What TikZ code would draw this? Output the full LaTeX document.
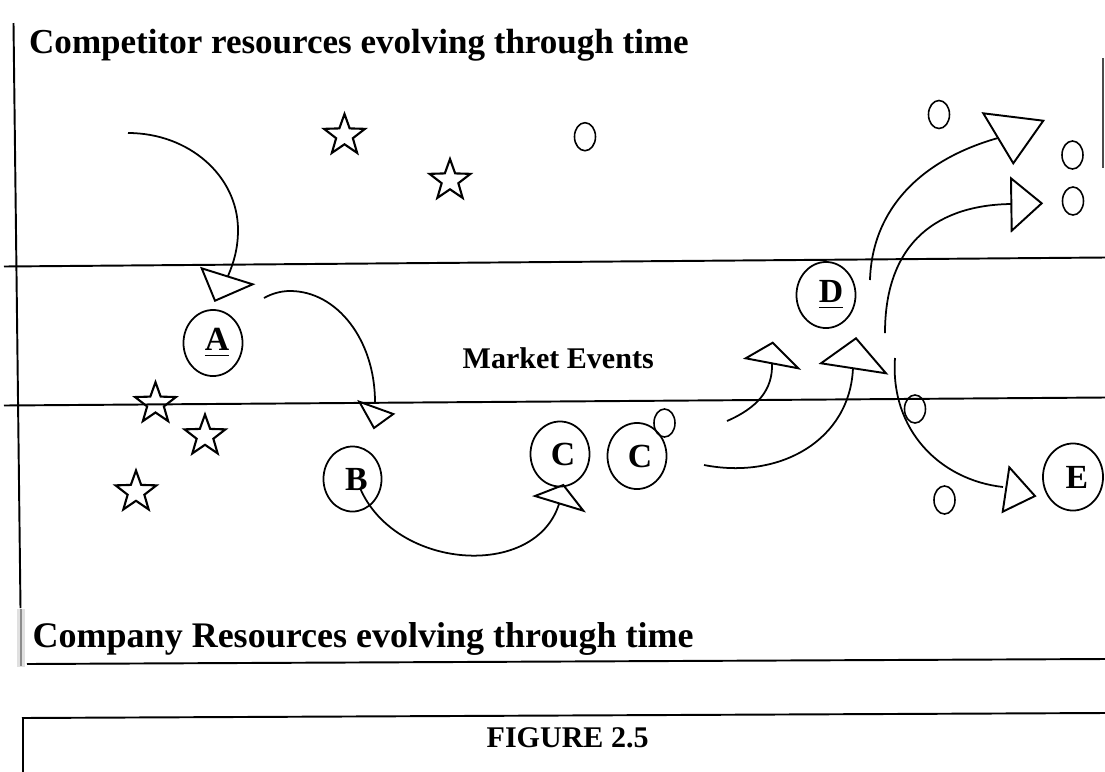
\documentclass[tikz,border=0pt]{standalone}
\usepackage{fontspec}
\setmainfont{Liberation Serif}
\usetikzlibrary{shapes.geometric}

\newcommand\headfont{\fontsize{9.96pt}{12pt}\selectfont\bfseries}
\newcommand\footfont{\fontsize{10.24pt}{12pt}\selectfont\bfseries}
\newcommand\bandfont{\fontsize{8.54pt}{10pt}\selectfont\bfseries}
\newcommand\letterfont{\fontsize{9.6pt}{11pt}\selectfont\bfseries}

\tikzset{
  rule/.style={line width=0.55pt},
  faint/.style={line width=0.4pt, black!70},
  curve/.style={line width=0.5pt},
  tri/.style={line width=0.55pt, line join=miter},
  ring/.style={draw, ellipse, line width=0.5pt, inner sep=0pt,
    minimum width=0.59cm, minimum height=0.66cm, font=\letterfont},
  blob/.style={draw, ellipse, line width=0.45pt, inner sep=0pt,
    minimum width=0.21cm, minimum height=0.28cm},
  starmark/.style={draw, star, star points=5, star point ratio=2.45,
    minimum size=0.43cm, inner sep=0pt, line width=0.6pt},
  caption/.style={anchor=base west, inner sep=0pt},
}

\begin{document}
\begin{tikzpicture}[x=0.01cm, y=-0.01cm]
  \useasboundingbox (0,0) rectangle (1105,772);

  % frame and band rules
  \draw[rule] (13.5,23) -- (20.5,608);
  \draw[rule] (4,266.5) -- (1105,257.5);
  \draw[rule] (4,405.5) -- (1105,397.5);
  \draw[rule] (27,664) -- (1105,659);
  \draw[rule] (22,718) -- (1105,713);
  \draw[rule] (22.7,718) -- (22.7,772);
  \draw[faint] (1103,58) -- (1103,168);
  \fill[black!12] (17,609) rectangle (25,667);
  \draw[line width=0.5pt, black!45] (21,609) -- (21,666);

  % texts
  \node[caption, font=\headfont] (top) at (28.5,53.3)
    {Competitor resources evolving through time};
  \node[caption, font=\bandfont] (band) at (462,368.3) {Market Events};
  \node[caption, font=\footfont] (bottom) at (32,647)
    {Company Resources evolving through time};
  \node[caption, font=\bandfont] (fig) at (486,747) {FIGURE 2.5};

  % stars
  \node[starmark] (s1) at (344.5,135.5) {};
  \node[starmark] (s2) at (450,180.5) {};
  \node[starmark] (s3) at (155.5,403.7) {};
  \node[starmark] (s4) at (205,436) {};
  \node[starmark] (s5) at (136,492) {};

  % small ovals
  \node[blob] (o1) at (585,136.7) {};
  \node[blob] (o2) at (939,114.5) {};
  \node[blob] (o3) at (1072.5,155) {};
  \node[blob] (o4) at (1073,201) {};
  \node[blob] (o5) at (664.5,423) {};
  \node[blob] (o6) at (915,409) {};
  \node[blob] (o7) at (944.5,500) {};

  % lettered resources
  \node[ring] (A)  at (213,343)   {\hspace*{0.08cm}\underline{A}};
  \node[ring, minimum width=0.58cm, minimum height=0.65cm] (B) at (352.5,479) {\hspace*{0.08cm}B};
  \node[ring, minimum height=0.65cm] (C1) at (560,454) {\hspace*{0.06cm}C};
  \node[ring] (C2) at (637,456)   {\hspace*{0.06cm}C};
  \node[ring] (D)  at (826,295)   {\hspace*{0.1cm}\underline{D}};
  \node[ring, minimum width=0.6cm, minimum height=0.67cm] (E) at (1073,477) {\hspace*{0.08cm}E};

  % open triangular arrowheads
  \coordinate (t1a) at (201.7,268.3); \coordinate (t1b) at (252.7,284.3); \coordinate (t1c) at (215,300.7);
  \coordinate (t2a) at (359.3,401.7); \coordinate (t2b) at (393.3,414);   \coordinate (t2c) at (374,428);
  \coordinate (t3a) at (535,496);     \coordinate (t3b) at (563.3,485);   \coordinate (t3c) at (583.3,510.7);
  \coordinate (t4a) at (745.7,358.3); \coordinate (t4b) at (772.7,342.7); \coordinate (t4c) at (798.3,368.3);
  \coordinate (t5a) at (821,363.3);   \coordinate (t5b) at (856,338.3);   \coordinate (t5c) at (886,373.3);
  \coordinate (t6a) at (983.3,113.3); \coordinate (t6b) at (1043.3,120.7);\coordinate (t6c) at (1013.3,163.3);
  \coordinate (t7a) at (1011,178.3);  \coordinate (t7b) at (1041.7,203.3);\coordinate (t7c) at (1011.7,230.7);
  \coordinate (t8a) at (1009.3,467.3);\coordinate (t8b) at (1035,496);    \coordinate (t8c) at (1002.7,511.7);
  \foreach \t in {t1,t2,t3,t4,t5,t6,t7,t8}
    \draw[tri] (\t a) -- (\t b) -- (\t c) -- cycle;

  % curved moves
  \coordinate (a1s) at (128,133);   \coordinate (a1e) at (228,276);
  \coordinate (a2s) at (264,298);   \coordinate (a2e) at (375,402);
  \coordinate (a3s) at (360,488);   \coordinate (a3e) at (559,504);
  \coordinate (a4s) at (727,421);   \coordinate (a4e) at (772,363.5);
  \coordinate (a5s) at (704,465);   \coordinate (a5e) at (853,368);
  \coordinate (a6s) at (870,280);   \coordinate (a6e) at (998,138);
  \coordinate (a7s) at (885,333);   \coordinate (a7e) at (1011,204);
  \coordinate (a8s) at (895,358);   \coordinate (a8e) at (1003,487);

  \draw[curve] (a1s) .. controls (189,133) and (238,176) .. (238,230)
                     .. controls (238,248) and (234,262) .. (a1e);
  \draw[curve] (a2s) .. controls (272,293.5) and (281,291) .. (290,291)
                     .. controls (337,291) and (375,340) .. (a2e);
  \draw[curve] (a3s) .. controls (395,570) and (535,580) .. (a3e);
  \draw[curve] (a4s) .. controls (757,408) and (773,390) .. (a4e);
  \draw[curve] (a5s) .. controls (780,480) and (850,440) .. (a5e);
  \draw[curve] (a6s) .. controls (872,210) and (920,160) .. (a6e);
  \draw[curve] (a7s) .. controls (885,240) and (940,205) .. (a7e);
  \draw[curve] (a8s) .. controls (890,430) and (940,480) .. (a8e);
\end{tikzpicture}
\end{document}
